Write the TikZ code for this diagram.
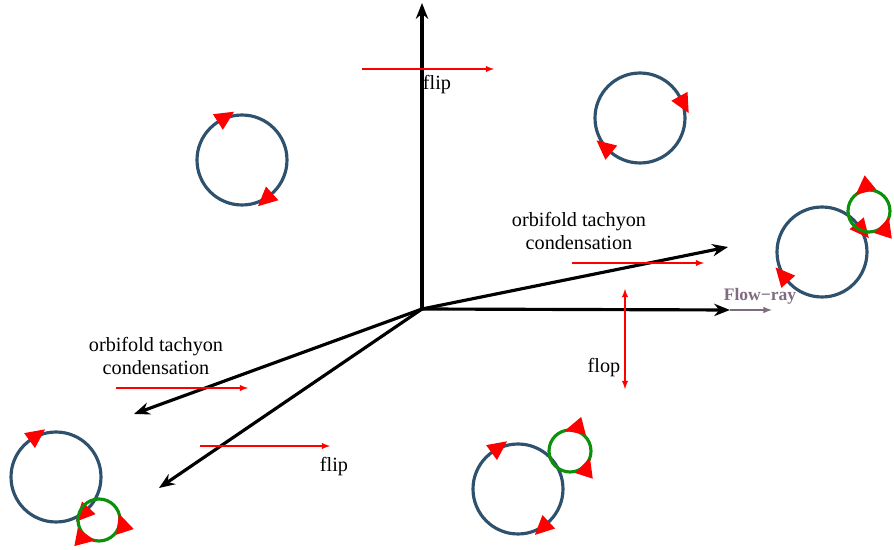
\documentclass[tikz,border=0pt]{standalone}
\usepackage{fontspec}
\setmainfont{Liberation Serif}
\usetikzlibrary{arrows,arrows.meta,decorations.markings}
\definecolor{ringblue}{RGB}{46,82,110}
\definecolor{ringgreen}{RGB}{12,145,12}
\definecolor{flowgrey}{RGB}{128,108,128}

\tikzset{
  cwtips/.style 2 args={decoration={markings,
      mark=at position #1 with {\arrow{Triangle[color=red,length=11pt,width=10pt,reversed]}},
      mark=at position #2 with {\arrow{Triangle[color=red,length=11pt,width=10pt,reversed]}}},
    postaction=decorate},
  ccwtips/.style 2 args={decoration={markings,
      mark=at position #1 with {\arrow{Triangle[color=red,length=11pt,width=10pt]}},
      mark=at position #2 with {\arrow{Triangle[color=red,length=11pt,width=10pt]}}},
    postaction=decorate}
}

\begin{document}
\begin{tikzpicture}[x=0.02cm,y=-0.02cm,
    axisarrow/.style={-{Stealth[length=9pt,width=7pt]},line width=1.8pt},
    move/.style={-latex,red,line width=0.6pt},
    ring/.style={ringblue,line width=1.8pt},
    gear/.style={ringgreen,line width=1.8pt},
    lbl/.style={font=\fontsize{11.5}{13.5}\selectfont,align=center,inner sep=1pt}]
    \useasboundingbox (0,0) rectangle (894,550);
    % axes
    \coordinate (O) at (422,309);
    \coordinate (up) at (422,3);
    \coordinate (east) at (730,310);
    \coordinate (ne) at (728,247);
    \coordinate (sw) at (134,414);
    \coordinate (ssw) at (159,488);
    \draw[axisarrow] (O) -- (up);
    \draw[axisarrow] (O) -- (east);
    \draw[axisarrow] (O) -- (ne);
    \draw[axisarrow] (O) -- (sw);
    \draw[axisarrow] (O) -- (ssw);
    % flow ray
    \coordinate (flowend) at (772,310);
    \draw[-latex,flowgrey,line width=0.7pt] (east) -- (flowend);
    \node[flowgrey,font=\fontsize{10}{12}\selectfont\bfseries] (flowlbl) at (760,296) {Flow−ray};
    % red moves
    \coordinate (fa0) at (362,69);  \coordinate (fa1) at (494,69);
    \coordinate (ta0) at (572,263); \coordinate (ta1) at (704,263);
    \coordinate (tb0) at (116,388); \coordinate (tb1) at (248,388);
    \coordinate (fb0) at (200,446); \coordinate (fb1) at (330,446);
    \coordinate (fl0) at (625,289); \coordinate (fl1) at (625,389);
    \draw[move] (fa0) -- (fa1);
    \draw[move] (ta0) -- (ta1);
    \draw[move] (tb0) -- (tb1);
    \draw[move] (fb0) -- (fb1);
    \draw[move,latex-latex] (fl0) -- (fl1);
    % labels
    \node[lbl] (flipa) at (437,85) {flip};
    \node[lbl] (flipb) at (334,467) {flip};
    \node[lbl] (flop) at (604,368) {flop};
    \node[lbl] (tacha) at (579,231) {orbifold tachyon\\condensation};
    \node[lbl] (tachb) at (156,356) {orbifold tachyon\\condensation};
    % rings
    \draw[ring,cwtips={0.34}{0.867}] (242,160) circle[radius=0.9cm];
    \draw[ring,cwtips={0.08}{0.64}] (640,118) circle[radius=0.9cm];
    \draw[ring,cwtips={0.11}{0.615}] (822,252) circle[radius=0.9cm];
    \draw[ring,cwtips={0.35}{0.88}] (56,477) circle[radius=0.9cm];
    \draw[ring,cwtips={0.35}{0.87}] (518,489) circle[radius=0.9cm];
    % small loops
    \draw[gear,ccwtips={0.36}{0.95}] (869,211) circle[radius=0.42cm];
    \draw[gear,ccwtips={0.05}{0.72}] (99,520) circle[radius=0.42cm];
    \draw[gear,ccwtips={0.29}{0.95}] (570,451) circle[radius=0.42cm];
\end{tikzpicture}
\end{document}
